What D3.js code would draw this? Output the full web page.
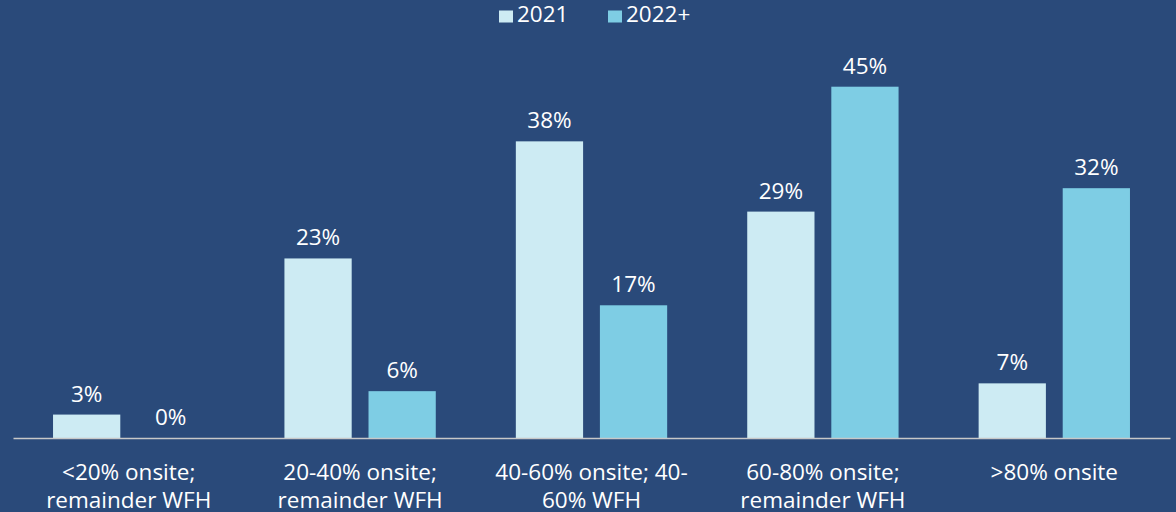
<!DOCTYPE html>
<html>
<head>
<meta charset="utf-8">
<script src="https://cdn.jsdelivr.net/npm/d3@7"></script>
<style>
  html, body { margin: 0; padding: 0; background: #2a4a7a; }
  svg { display: block; font-family: "Open Sans", "Noto Sans", sans-serif; }
</style>
</head>
<body>
<svg id="chart" width="1176" height="512"></svg>
<script>
// Work arrangement categories and their wrapped axis labels
const categories = [
  "<20% onsite; remainder WFH",
  "20-40% onsite; remainder WFH",
  "40-60% onsite; 40-60% WFH",
  "60-80% onsite; remainder WFH",
  ">80% onsite"
];
const categoryLines = [
  ["<20% onsite;", "remainder WFH"],
  ["20-40% onsite;", "remainder WFH"],
  ["40-60% onsite; 40-", "60% WFH"],
  ["60-80% onsite;", "remainder WFH"],
  [">80% onsite"]
];
const seriesNames = ["2021", "2022+"];
const values2021 = [3, 23, 38, 29, 7];
const values2022 = [0, 6, 17, 45, 32];
const seriesColors = ["#cdebf3", "#7ecde4"];

const svg = d3.select("#chart");
const plotLeft = 13, plotRight = 1170, baseY = 438;
const fontSize = 22.5;

const x0 = d3.scaleBand().domain(categories).range([plotLeft, plotRight]).padding(0);
const groupPad = x0.bandwidth() * 0.173;
const x1 = d3.scaleBand().domain(seriesNames)
  .range([groupPad, x0.bandwidth() - groupPad]).paddingInner(0.2);
const y = d3.scaleLinear().domain([0, 45]).range([baseY, 86.7]);

const seriesValues = [values2021, values2022];
const rows = categories.map((c, i) => ({
  cat: c,
  vals: seriesNames.map((s, j) => ({ series: s, value: seriesValues[j][i], color: seriesColors[j] }))
}));

const groups = svg.append("g").selectAll("g").data(rows).join("g")
  .attr("transform", d => `translate(${x0(d.cat)},0)`);

groups.selectAll("rect").data(d => d.vals).join("rect")
  .attr("x", d => x1(d.series))
  .attr("y", d => y(d.value))
  .attr("width", x1.bandwidth())
  .attr("height", d => baseY - y(d.value))
  .attr("fill", d => d.color);

groups.selectAll("text.val").data(d => d.vals).join("text")
  .attr("class", "val")
  .attr("x", d => x1(d.series) + x1.bandwidth() / 2)
  .attr("y", d => y(d.value) - 13)
  .attr("text-anchor", "middle")
  .attr("fill", "#ffffff")
  .attr("font-size", fontSize)
  .text(d => d.value + "%");

// Baseline axis
const xAxis = d3.axisBottom(x0).tickSize(0).tickFormat("");
const axisG = svg.append("g").attr("transform", `translate(0,${baseY})`).call(xAxis);
axisG.select(".domain").attr("stroke", "#c8c8c8").attr("stroke-width", 1.5);

// Category labels
const labelG = svg.append("g");
categories.forEach((c, i) => {
  const cx = x0(c) + x0.bandwidth() / 2;
  const t = labelG.append("text")
    .attr("x", cx)
    .attr("y", 480)
    .attr("text-anchor", "middle")
    .attr("fill", "#ffffff")
    .attr("font-size", fontSize);
  categoryLines[i].forEach((line, k) => {
    t.append("tspan").attr("x", cx).attr("dy", k === 0 ? 0 : 28).text(line);
  });
});

// Legend
const legend = svg.append("g");
const legendX = [499, 608];
seriesNames.forEach((s, j) => {
  legend.append("rect").attr("x", legendX[j]).attr("y", 10.5).attr("width", 14).attr("height", 12)
    .attr("fill", seriesColors[j]);
  legend.append("text").attr("x", legendX[j] + 18).attr("y", 22)
    .attr("fill", "#ffffff").attr("font-size", fontSize).text(s);
});
</script>
</body>
</html>
